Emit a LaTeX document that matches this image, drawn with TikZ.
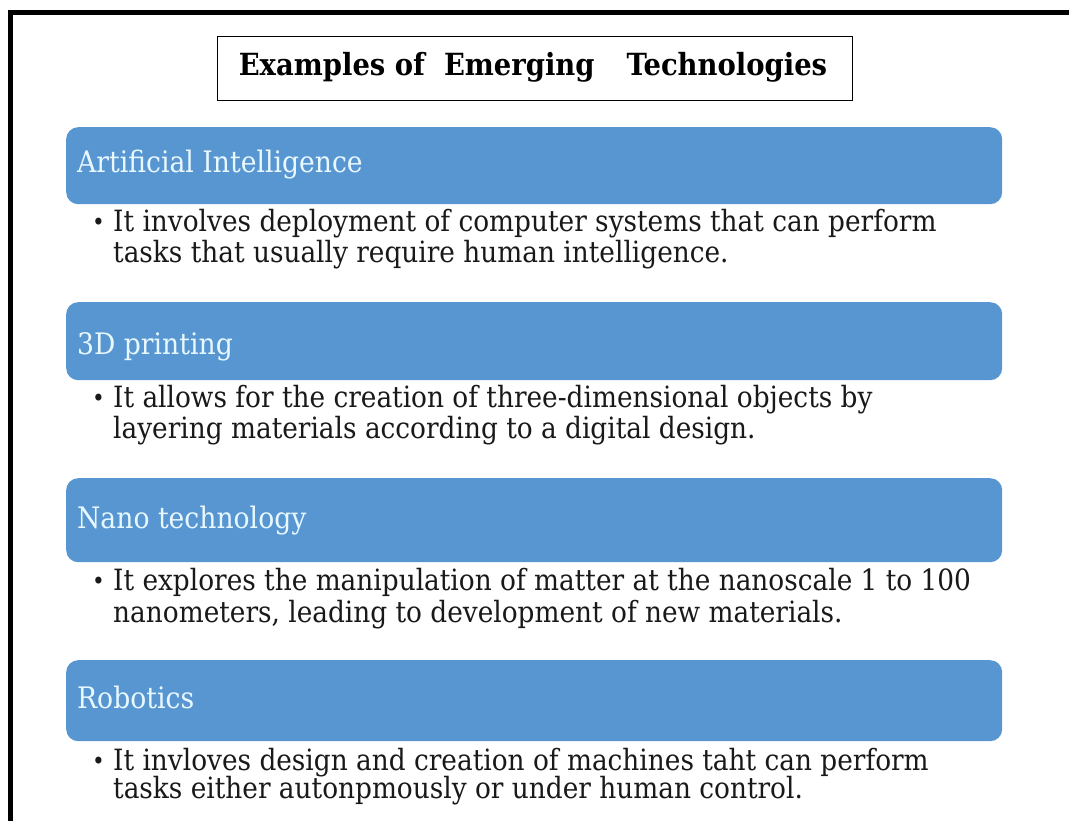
\documentclass[tikz,border=0pt]{standalone}
\usepackage{fontspec}
\setmainfont{DejaVu Serif Condensed}
\definecolor{boxblue}{RGB}{88,150,210}
\definecolor{headtxt}{RGB}{232,248,255}
\begin{document}
\begin{tikzpicture}[x=1pt,y=-1pt,
  frameline/.style={line width=5pt, black},
  titlebox/.style={draw=black, line width=1.3pt, fill=white, anchor=north west, inner sep=0pt},
  titletext/.style={anchor=base, inner sep=0pt, font=\bfseries\fontsize{30.5}{34}\selectfont},
  headbox/.style={fill=boxblue, draw=none, rounded corners=12pt, anchor=north west, minimum width=936pt, inner sep=0pt},
  headtext/.style={anchor=base west, inner sep=0pt, text=headtxt, font=\fontsize{29.6}{32}\selectfont},
  bodytext/.style={anchor=base west, inner sep=0pt, text=black!90, font=\fontsize{29.3}{32}\selectfont},
  bullettext/.style={anchor=base west, inner sep=0pt, text=black!90, font=\fontsize{24}{30}\selectfont}]
\useasboundingbox (0,0) rectangle (1069,821);
\fill[white] (0,0) rectangle (1069,821);
% frame (cut off at right and bottom)
\coordinate (fa) at (1069,13);
\coordinate (fb) at (10.5,13);
\coordinate (fc) at (10.5,821);
\draw[frameline] (fa) -- (fb) -- (fc);
% title
\node[titlebox, minimum width=635pt, minimum height=64pt] (tbox) at (217,36) {};
\node[titletext] (title) at (533,76) {Examples of\hspace{19pt}Emerging\hspace{32pt}Technologies};
% boxes
\node[headbox, minimum height=77pt] (b1) at (66,127) {};
\node[headbox, minimum height=78pt] (b2) at (66,302) {};
\node[headbox, minimum height=84pt] (b3) at (66,478) {};
\node[headbox, minimum height=81pt] (b4) at (66,660) {};
\node[headtext] (h1) at (77,173) {Artificial Intelligence};
\node[headtext] (h2) at (77,354) {3D printing};
\node[headtext] (h3) at (77,528) {Nano technology};
\node[headtext] (h4) at (77,708) {Robotics};
% bullets
\node[bullettext] (d1) at (92,231) {•};
\node[bodytext] (l1a) at (113,232) {It involves deployment of computer systems that can perform};
\node[bodytext] (l1b) at (113,263) {tasks that usually require human intelligence.};
\node[bullettext] (d2) at (92,406) {•};
\node[bodytext] (l2a) at (113,407) {It allows for the creation of three-dimensional objects by};
\node[bodytext] (l2b) at (113,438) {layering materials according to a digital design.};
\node[bullettext] (d3) at (92,589) {•};
\node[bodytext] (l3a) at (113,590) {It explores the manipulation of matter at the nanoscale 1 to 100};
\node[bodytext] (l3b) at (113,622) {nanometers, leading to development of new materials.};
\node[bullettext] (d4) at (92,769) {•};
\node[bodytext] (l4a) at (113,770) {It invloves design and creation of machines taht can perform};
\node[bodytext] (l4b) at (113,798) {tasks either autonpmously or under human control.};
\end{tikzpicture}
\end{document}
